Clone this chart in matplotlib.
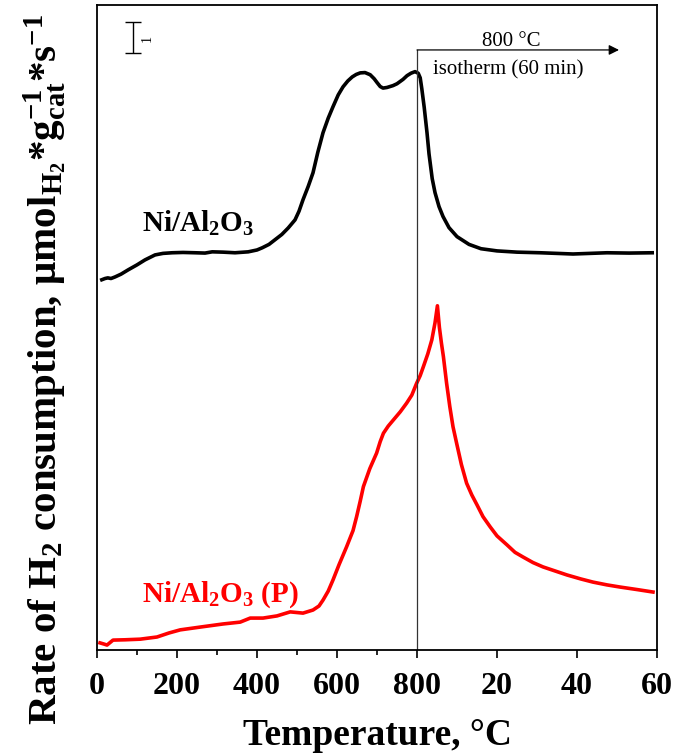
import numpy as np
import matplotlib
matplotlib.use('Agg')
import matplotlib.pyplot as plt

plt.rcParams['font.family'] = ['Liberation Serif', 'DejaVu Serif']
plt.rcParams['mathtext.fontset'] = 'custom'
plt.rcParams['mathtext.rm'] = 'Liberation Serif:bold'
plt.rcParams['mathtext.it'] = 'Liberation Serif:italic:bold'
plt.rcParams['mathtext.bf'] = 'Liberation Serif:bold'

# x axis: 0-800 is temperature (C), then isotherm time mapped as 800 + 10*min
ref_T = [12, 20, 27, 35, 45, 60, 78, 100, 120, 145, 165, 188, 215, 245, 270, 288,
         315, 345, 378, 400, 413, 430, 445, 462, 478, 495, 505, 515, 528, 540,
         552, 565, 578, 590, 603, 615, 627, 638, 648, 658, 670, 683, 693, 700,
         708, 715, 725, 740, 750, 765, 775, 785, 795, 803, 808, 812, 818, 825,
         830, 838, 845, 855, 865, 880, 900, 930, 960, 1000, 1050, 1108, 1190,
         1275, 1330, 1388]
ref_y = [11.94, 11.98, 12.0, 11.98, 12.03, 12.12, 12.26, 12.42, 12.58, 12.74,
         12.79, 12.81, 12.82, 12.81, 12.80, 12.84, 12.83, 12.81, 12.84, 12.90,
         12.97, 13.08, 13.23, 13.40, 13.61, 13.87, 14.15, 14.52, 14.95, 15.39,
         16.05, 16.68, 17.15, 17.52, 17.90, 18.16, 18.35, 18.48, 18.56, 18.61,
         18.62, 18.55, 18.42, 18.30, 18.17, 18.12, 18.14, 18.20, 18.26, 18.40,
         18.52, 18.60, 18.65, 18.60, 18.45, 18.10, 17.50, 16.68, 16.00, 15.20,
         14.75, 14.30, 13.98, 13.62, 13.33, 13.08, 12.94, 12.87, 12.83, 12.81,
         12.77, 12.81, 12.80, 12.81]

p_T = [7.5, 18, 25, 40, 70, 108, 150, 180, 208, 258, 315, 358, 383, 415, 450,
       483, 515, 540, 555, 565, 578, 590, 605, 624, 640, 649, 658, 666, 682,
       699, 708, 716, 728, 741, 758, 774, 787, 799, 808, 816, 827, 837, 845,
       851, 856, 861, 866, 874, 882, 890, 899, 911, 924, 937, 950, 965, 983,
       1000, 1025, 1045, 1065, 1090, 1115, 1145, 1175, 1210, 1240, 1275, 1308,
       1350, 1390]
p_y = [0.23, 0.19, 0.16, 0.32, 0.33, 0.35, 0.42, 0.55, 0.65, 0.74, 0.84, 0.90,
       1.03, 1.03, 1.10, 1.23, 1.19, 1.29, 1.42, 1.61, 1.90, 2.26, 2.75, 3.33,
       3.85, 4.30, 4.80, 5.27, 5.85, 6.35, 6.72, 6.99, 7.22, 7.42, 7.68, 7.96,
       8.22, 8.60, 8.85, 9.14, 9.55, 10.0, 10.55, 11.10, 10.40, 9.90, 9.46,
       8.60, 7.85, 7.20, 6.67, 5.98, 5.38, 5.00, 4.68, 4.30, 3.97, 3.68, 3.39,
       3.15, 3.00, 2.82, 2.68, 2.55, 2.42, 2.29, 2.19, 2.10, 2.03, 1.95, 1.87]

tick_pos = [0, 200, 400, 600, 800, 1000, 1200, 1400]
tick_lab = ['0', '200', '400', '600', '800', '20', '40', '60']

fig = plt.figure(figsize=(6.91, 7.54), dpi=100)
ax = fig.add_axes([0.1404, 0.1379, 0.8104, 0.8555])

ax.plot(ref_T, ref_y, color='black', lw=2.6, solid_joinstyle='round')
ax.plot(p_T, p_y, color='#ff0000', lw=2.6, solid_joinstyle='round')

# isotherm marker
ax.plot([800, 800], [0, 19.35], color='#333333', lw=0.9)
ax.annotate('', xy=(1305, 19.35), xytext=(800, 19.35),
            arrowprops=dict(arrowstyle='-|>', color='black', lw=0.9,
                            mutation_scale=15, shrinkA=0, shrinkB=0))
ax.text(1035, 19.62, '800 °C', ha='center', va='center', fontsize=15)
ax.text(1028, 18.72, 'isotherm (60 min)', ha='center', va='center', fontsize=15)

# scale bar
ax.errorbar([90], [19.75], yerr=0.5, color='black', lw=1, capsize=6, capthick=1)
ax.text(126, 19.72, '1', rotation=90, ha='center', va='center', fontsize=10)

ax.text(112, 13.48, 'Ni/Al$_2$O$_3$', fontsize=21, fontweight='bold',
        color='black', ha='left', va='baseline')
ax.text(112, 1.55, 'Ni/Al$_2$O$_3$ (P)', fontsize=21, fontweight='bold',
        color='#ff0000', ha='left', va='baseline')

ax.set_xlim(0, 1400)
ax.set_ylim(0, 20.8)
ax.set_xticks(tick_pos)
ax.set_xticklabels(tick_lab)
ax.set_xticks([100, 300, 500, 700], minor=True)
ax.set_yticks([])
ax.tick_params(axis='x', which='major', direction='out', length=6, width=1.2,
               labelsize=23, pad=10)
ax.tick_params(axis='x', which='minor', direction='out', length=3.5, width=1.2)
for lbl in ax.get_xticklabels():
    lbl.set_fontweight('bold')
for s in ax.spines.values():
    s.set_linewidth(1.3)

ax.set_xlabel('Temperature, °C', fontsize=27, fontweight='bold', labelpad=12)
ax.set_ylabel('Rate of H$_2$ consumption, μmol$_{\\mathrm{H_2}}$*g$^{-1}_{\\mathrm{cat}}$*s$^{-1}$',
              fontsize=29.5, fontweight='bold')
ax.yaxis.set_label_coords(-0.05, 0.435)

fig.savefig('out.png', dpi=100, facecolor='white')
